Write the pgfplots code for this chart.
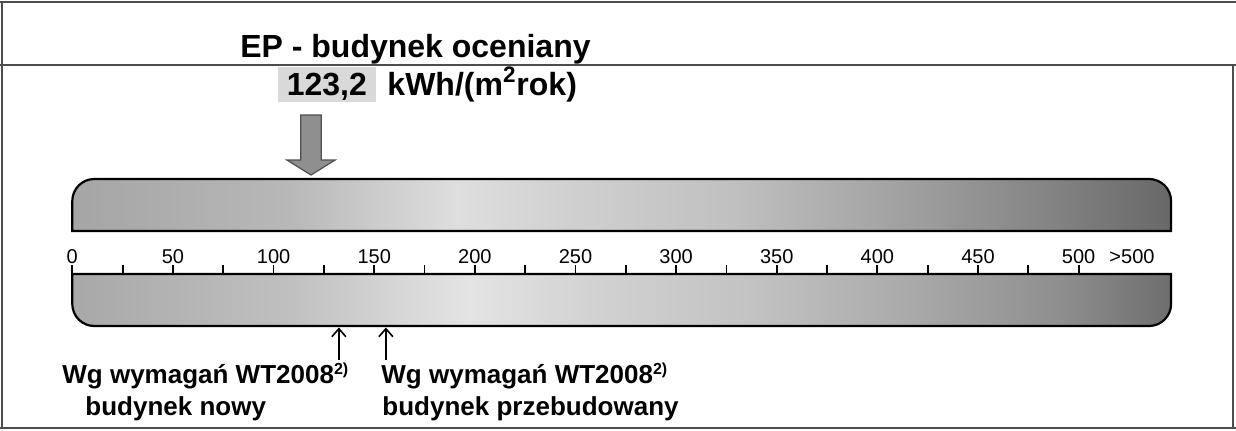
\documentclass[border=0pt]{standalone}
\usepackage{pgfplots}
\pgfplotsset{compat=1.18}
\usepackage{fontspec}
\setmainfont{Liberation Sans}
\usetikzlibrary{arrows.meta}
\definecolor{framegray}{HTML}{4D4D4D}
\definecolor{valuegray}{HTML}{D9D9D9}
\definecolor{arrowgray}{HTML}{8F8F8F}
\definecolor{arrowedge}{HTML}{505050}
\pgfdeclarehorizontalshading{upperbar}{100bp}{rgb(0bp)=(0.647,0.647,0.647); rgb(25bp)=(0.647,0.647,0.647); rgb(35bp)=(0.722,0.722,0.722); rgb(42.5bp)=(0.871,0.871,0.871); rgb(47.5bp)=(0.816,0.816,0.816); rgb(55bp)=(0.753,0.753,0.753); rgb(62.5bp)=(0.635,0.635,0.635); rgb(69bp)=(0.525,0.525,0.525); rgb(75bp)=(0.408,0.408,0.408); rgb(100bp)=(0.408,0.408,0.408)}
\pgfdeclarehorizontalshading{lowerbar}{100bp}{rgb(0bp)=(0.659,0.659,0.659); rgb(25bp)=(0.659,0.659,0.659); rgb(35bp)=(0.753,0.753,0.753); rgb(43bp)=(0.894,0.894,0.894); rgb(48.5bp)=(0.824,0.824,0.824); rgb(56bp)=(0.761,0.761,0.761); rgb(63.5bp)=(0.659,0.659,0.659); rgb(70bp)=(0.557,0.557,0.557); rgb(75bp)=(0.431,0.431,0.431); rgb(100bp)=(0.431,0.431,0.431)}
\begin{document}
\begin{tikzpicture}
\begin{axis}[
  scale only axis, width=549.37pt, height=215pt,
  xmin=0, xmax=545.9, ymin=-156, ymax=274,
  enlargelimits=false, clip=false,
  axis x line=middle, axis y line=none,
  x axis line style={-, line width=1.2pt, black},
  every inner x axis line/.append style={-},
  axis on top,
  xtick={0,50,...,500}, minor xtick={25,75,...,475},
  xtick align=inside, major tick length=4.6pt, minor tick length=4.6pt,
  tick style={black, line width=0.9pt},
  hide obscured x ticks=false,
  xticklabel style={anchor=base, inner sep=0pt, yshift=5.5pt, font=\fontsize{10pt}{12pt}\selectfont},
  /pgf/number format/assume math mode=true,
  extra x ticks={526.5}, extra x tick labels={>500},
  extra x tick style={major tick length=0pt},
]
% frame
\draw[framegray, line width=1pt] (axis cs:-35.92,272.3) -- (axis cs:578.17,272.3);
\draw[framegray, line width=1pt] (axis cs:-35.92,209.5) -- (axis cs:578.17,209.5);
\draw[framegray, line width=1pt] (axis cs:-34.9,272.8) -- (axis cs:-34.9,-154);
\draw[framegray, line width=1pt] (axis cs:576.7,209.5) -- (axis cs:576.7,-154);
\draw[framegray, line width=1pt] (axis cs:-35.92,-154) -- (axis cs:578.17,-154);
% bars
\path[draw=black, line width=1.1pt, shading=upperbar] (axis cs:0,43) -- (axis cs:0,73) arc[start angle=180, end angle=90, radius=11pt] -- (axis cs:534.97,95) arc[start angle=90, end angle=0, radius=11pt] -- (axis cs:545.9,43) -- cycle;
\path[draw=black, line width=1.1pt, shading=lowerbar] (axis cs:0,0) -- (axis cs:0,-30) arc[start angle=180, end angle=270, radius=11pt] -- (axis cs:534.97,-52) arc[start angle=270, end angle=360, radius=11pt] -- (axis cs:545.9,0) -- cycle;
% title and value
\node[anchor=base, inner sep=0pt, font=\fontsize{16pt}{19pt}\selectfont\bfseries] at (axis cs:170.5,217) {EP - budynek oceniany};
\fill[valuegray] (axis cs:102.3,207) rectangle (axis cs:150.9,172);
\node[anchor=base, inner sep=0pt, font=\fontsize{16pt}{19pt}\selectfont\bfseries] at (axis cs:126.5,179) {123,2};
\node[anchor=base west, inner sep=0pt, font=\fontsize{16pt}{19pt}\selectfont\bfseries] at (axis cs:156.4,179) {kWh/(m\textsuperscript{2}rok)};
% rated building arrow
\addplot[fill=arrowgray, draw=arrowedge, line width=0.6pt] coordinates {(113.5,159) (123.7,159) (123.7,114) (130.6,114) (118.6,99) (106.6,114) (113.5,114)} -- cycle;
% WT2008 arrows
\addplot[black, line width=0.8pt, -{Straight Barb[length=4pt,width=7pt]}] coordinates {(132.45,-86) (132.45,-53.5)};
\addplot[black, line width=0.8pt, -{Straight Barb[length=4pt,width=7pt]}] coordinates {(155.8,-86) (155.8,-53.5)};
% bottom labels
\node[anchor=base west, inner sep=0pt, font=\fontsize{13pt}{15pt}\selectfont\bfseries] at (axis cs:-5.12,-109) {Wg wymagań WT2008\textsuperscript{\footnotesize 2)}};
\node[anchor=base west, inner sep=0pt, font=\fontsize{13pt}{15pt}\selectfont\bfseries] at (axis cs:6.31,-141) {budynek nowy};
\node[anchor=base west, inner sep=0pt, font=\fontsize{13pt}{15pt}\selectfont\bfseries] at (axis cs:153.4,-109) {Wg wymagań WT2008\textsuperscript{\footnotesize 2)}};
\node[anchor=base west, inner sep=0pt, font=\fontsize{13pt}{15pt}\selectfont\bfseries] at (axis cs:153.9,-141) {budynek przebudowany};
\coordinate (bl) at (axis cs:-35.92,-156);
\coordinate (tr) at (axis cs:578.17,274);
\end{axis}
\pgfresetboundingbox
\path[use as bounding box] (bl) rectangle (tr);
\end{tikzpicture}
\end{document}
